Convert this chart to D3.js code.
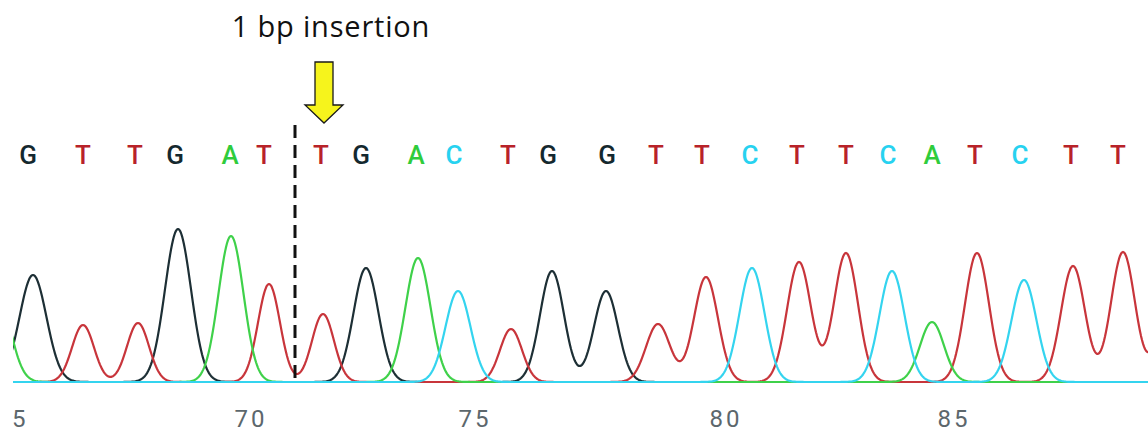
<!DOCTYPE html>
<html>
<head>
<meta charset="utf-8">
<script src="https://cdn.jsdelivr.net/npm/d3@7"></script>
<style>
  body { margin: 0; background: #fff; }
  svg { display: block; }
</style>
</head>
<body>
<svg id="chromatogram"></svg>
<script>
// Base calls (first and last sit just outside the visible window)
const bases = ["A","G","T","T","G","A","T","T","G","A","C","T","G","G","T","T","C","T","T","C","A","T","C","T","T","T"];
// Peak location of each base, in scan units
const peakScans = [-16, 20, 70, 125, 165, 218, 256, 310, 353, 405, 445, 498, 539, 593, 645, 693, 739, 786, 833, 879, 919, 964, 1011, 1060, 1110, 1159];
// Where the base letter is printed, in scan units
const callScans = [-16, 15, 70, 122, 162, 217, 251, 308, 348, 403, 441, 495, 535, 594, 643, 689, 737, 784, 833, 875, 919, 962, 1007, 1058, 1105, 1159];
// Peak signal intensity
const peakHeights = [900, 1070, 570, 590, 1530, 1460, 980, 680, 1140, 1240, 910, 530, 1110, 910, 580, 1050, 1140, 1200, 1290, 1110, 600, 1290, 1020, 1160, 1300, 1100];
// Peak spread (sd, scan units)
const peakWidths = [13, 13.5, 11, 11, 13, 12.5, 11, 11, 12.5, 12.5, 12.5, 11, 12, 12, 12, 12, 12.5, 12, 12, 12.5, 12, 12, 12.5, 12, 12, 12];

// Base position ruler
const tickScans = [-3, 236, 460, 711, 939];
const tickLabels = ["65", "70", "75", "80", "85"];

// Insertion marker
const insertionScan = 282;
const insertionLabel = "1 bp insertion";

const channelOrder = ["G", "T", "A", "C"];
const traceColors = { G: "#1d2f35", T: "#c8353b", A: "#3fd14a", C: "#34d4ef" };
const letterColors = { G: "#14282e", T: "#b82229", A: "#2fcc3c", C: "#27d2f0" };

const width = 1148, height = 433;
const baselineY = 382;

const svg = d3.select("#chromatogram")
  .attr("width", width)
  .attr("height", height);

svg.append("rect").attr("width", width).attr("height", height).attr("fill", "#fff");

const x = d3.scaleLinear().domain([0, 1135]).range([13, 1148]);
const y = d3.scaleLinear().domain([0, 1600]).range([baselineY, 222]);

svg.append("clipPath").attr("id", "panel")
  .append("rect")
  .attr("x", 13).attr("y", 0)
  .attr("width", width - 13).attr("height", height);

const panel = svg.append("g").attr("clip-path", "url(#panel)");

// build each channel's trace as the sum of its peaks
const peaks = bases.map((b, i) => ({ base: b, pos: peakScans[i], h: peakHeights[i], sd: peakWidths[i] }));
const scans = d3.range(-40, 1180, 1);

const traces = channelOrder.map(ch => {
  const own = peaks.filter(p => p.base === ch);
  return {
    base: ch,
    values: scans.map(s => ({
      s: s,
      v: d3.sum(own, p => p.h * Math.exp(-((s - p.pos) ** 2) / (2 * p.sd * p.sd)))
    }))
  };
});

const line = d3.line()
  .x(d => x(d.s))
  .y(d => y(d.v));

panel.selectAll("path.trace")
  .data(traces)
  .enter()
  .append("path")
  .attr("class", "trace")
  .attr("d", d => line(d.values))
  .attr("fill", "none")
  .attr("stroke", d => traceColors[d.base])
  .attr("stroke-width", 2.2)
  .attr("stroke-linejoin", "round");

// base call letters (only the ones inside the window)
const calls = bases
  .map((b, i) => ({ base: b, pos: callScans[i] }))
  .filter(d => x(d.pos) > 20 && x(d.pos) < width - 10);

panel.selectAll("text.call")
  .data(calls)
  .enter()
  .append("text")
  .attr("class", "call")
  .attr("x", d => x(d.pos))
  .attr("y", 164)
  .attr("text-anchor", "middle")
  .attr("font-family", "Roboto, sans-serif")
  .attr("font-weight", 500)
  .attr("font-size", 26)
  .attr("fill", d => letterColors[d.base])
  .text(d => d.base);

// position ruler
const axis = d3.axisBottom(x)
  .tickValues(tickScans)
  .tickFormat((d, i) => tickLabels[i])
  .tickSize(0);

const axisG = panel.append("g")
  .attr("transform", "translate(0,427)")
  .call(axis);
axisG.select(".domain").remove();
axisG.selectAll("text")
  .attr("y", 0)
  .attr("dy", 0)
  .attr("dx", "0.06em")
  .attr("font-family", "Roboto, sans-serif")
  .attr("font-size", 24)
  .attr("letter-spacing", "3px")
  .attr("fill", "#5c676c");

// dashed insertion line
const insX = x(insertionScan);
svg.append("line")
  .attr("x1", insX).attr("x2", insX)
  .attr("y1", 125).attr("y2", baselineY)
  .attr("stroke", "#111")
  .attr("stroke-width", 3)
  .attr("stroke-dasharray", "13,7");

// yellow arrow
const ax = 324;
const arrowPts = [
  [ax - 9, 62], [ax + 9, 62], [ax + 9, 105], [ax + 19, 105],
  [ax, 123], [ax - 19, 105], [ax - 9, 105]
];
svg.append("polygon")
  .attr("points", arrowPts.map(p => p.join(",")).join(" "))
  .attr("fill", "#f6f41c")
  .attr("stroke", "#1a1a1a")
  .attr("stroke-width", 1.3)
  .attr("stroke-linejoin", "miter");

svg.append("text")
  .attr("x", 331)
  .attr("y", 37)
  .attr("text-anchor", "middle")
  .attr("font-family", "'Open Sans', Lato, sans-serif")
  .attr("font-size", 29)
  .attr("letter-spacing", "0.8px")
  .attr("fill", "#111")
  .text(insertionLabel);
</script>
</body>
</html>
